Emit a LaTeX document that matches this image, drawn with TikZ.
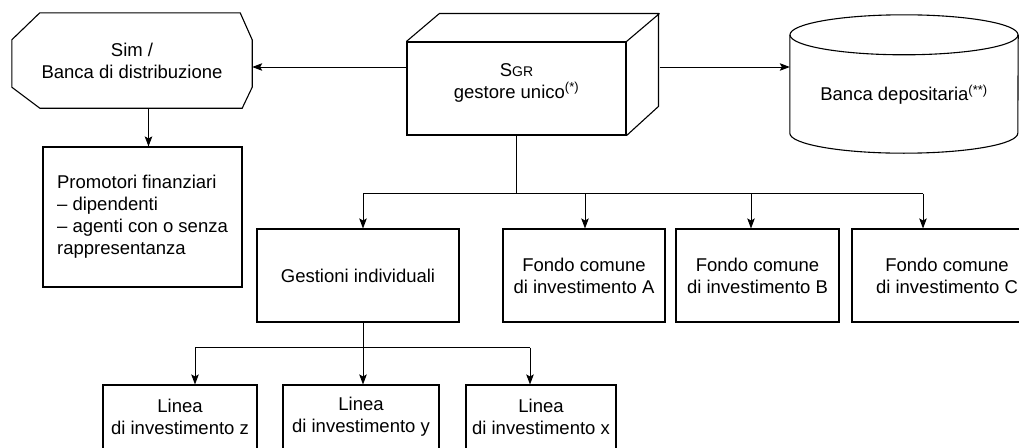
\documentclass[tikz,border=0pt]{standalone}
\usepackage{fontspec}
\setmainfont{Liberation Sans}
\usetikzlibrary{arrows.meta,%  stealth tips on the connectors
calc}%                         offsets from node anchors
\tikzset{every node/.style={font=\fontsize{18.5}{22}\selectfont},
  box/.style={draw,line width=1.1pt,align=center,inner sep=0pt},
  link/.style={line width=0.9pt},
  arr/.style={link,-{Stealth[length=10pt,width=7.5pt,inset=2pt]}}}

\begin{document}
\begin{tikzpicture}[x=1pt,y=-1pt]
\useasboundingbox (0,0) rectangle (1019,447);
\clip (0,0) rectangle (1019,447);
% top row
\node[align=center,minimum width=240pt,minimum height=95pt] (SimBox) at (132,60.5)
  {Sim /\\Banca di distribuzione};
\draw[line width=1.1pt] ($(SimBox.north west)+(28,0)$) -- ($(SimBox.north east)+(-12,0)$)
  -- ($(SimBox.north east)+(0,27)$) -- ($(SimBox.south east)+(0,-21)$)
  -- ($(SimBox.south east)+(-10,0)$) -- ($(SimBox.south west)+(28,0)$)
  -- ($(SimBox.south west)+(0,-21)$) -- ($(SimBox.north west)+(0,27)$) -- cycle;
\node[box,minimum width=219pt,minimum height=93pt,
  label={[yshift=6pt,align=center]center:S{\fontsize{14}{22}\selectfont GR}\\gestore unico\textsuperscript{(*)}}]
  (SgrBox) at (516.5,88.5) {};
\draw[line width=1.1pt] (SgrBox.north west) -- ++(33,-28) -- ++(219,0) -- ++(0,93)
  -- (SgrBox.south east) (SgrBox.north east) -- ++(33,-28);
\node[minimum width=228pt,minimum height=98pt,
  label={[yshift=-11pt]center:Banca depositaria\textsuperscript{(**)}}]
  (BankCyl) at (904,84) {};
\draw[line width=1.1pt] (BankCyl.north) ellipse [x radius=114, y radius=20];
\draw[line width=1.1pt] (BankCyl.north west) -- (BankCyl.south west)
  arc [start angle=180, end angle=0, x radius=114, y radius=20] -- (BankCyl.north east);
\coordinate (SgrSide) at ($(SgrBox.east)+(33,-21.5)$);
\coordinate (SgrFront) at ($(SgrBox.west)+(0,-21.5)$);
\draw[arr] (SgrFront) -- (SgrFront -| SimBox.east);
\draw[arr] (SgrSide) -- (SgrSide -| BankCyl.west);
% distribution side
\node[box,align=left,minimum width=199pt,minimum height=140pt] (PromBox) at (142.5,217)
  {Promotori finanziari\\-- dipendenti\\-- agenti con o senza\\rappresentanza};
\coordinate (PromIn) at ($(PromBox.north)+(6,0)$);
\draw[arr] (SimBox.south -| PromIn) -- (PromIn);
% managed products
\node[box,minimum width=202pt,minimum height=93pt] (GestBox) at (358,275.5) {Gestioni individuali};
\node[box,minimum width=162pt,minimum height=93pt] (FondoA) at (584,275.5) {Fondo comune\\di investimento A};
\node[box,minimum width=163pt,minimum height=93pt] (FondoB) at (757.5,275.5) {Fondo comune\\di investimento B};
\node[box,minimum width=190pt,minimum height=93pt] (FondoC) at (947,275.5) {Fondo comune\\di investimento C};
\coordinate (SgrBus) at ($(SgrBox.south)+(0,58)$);
\coordinate (GestIn) at ($(GestBox.north)+(5,0)$);
\coordinate (FondoAIn) at ($(FondoA.north)+(1,0)$);
\coordinate (FondoBIn) at ($(FondoB.north)+(-6.5,0)$);
\coordinate (FondoCIn) at ($(FondoC.north)+(-24,0)$);
\draw[link] (SgrBox.south) -- (SgrBus);
\draw[link] (SgrBus -| GestIn) -- (SgrBus -| FondoCIn);
\foreach \nm in {GestIn,FondoAIn,FondoBIn,FondoCIn}
  \draw[arr] (SgrBus -| \nm) -- (\nm);
% investment lines
\node[box,minimum width=154pt,minimum height=64pt] (LineaZ) at (180,417) {Linea\\di investimento z};
\node[box,minimum width=156pt,minimum height=64pt] (LineaY) at (361,417) {Linea\\di investimento y};
\node[box,minimum width=150pt,minimum height=64pt] (LineaX) at (541,417) {Linea\\di investimento x};
\coordinate (GestBus) at ($(GestBox.south)+(5,25)$);
\coordinate (LineaZIn) at ($(LineaZ.north)+(15,0)$);
\coordinate (LineaYIn) at ($(LineaY.north)+(2,0)$);
\coordinate (LineaXIn) at ($(LineaX.north)+(-11,0)$);
\draw[link] (GestBox.south -| GestBus) -- (GestBus);
\draw[link] (GestBus -| LineaZIn) -- (GestBus -| LineaXIn);
\foreach \nm in {LineaZIn,LineaYIn,LineaXIn}
  \draw[arr] (GestBus -| \nm) -- (\nm);
\end{tikzpicture}
\end{document}
